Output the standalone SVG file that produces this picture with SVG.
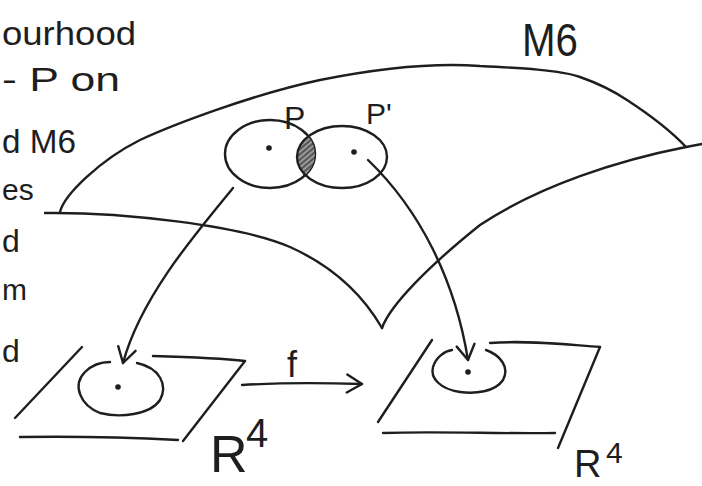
<svg xmlns="http://www.w3.org/2000/svg" width="702" height="486" viewBox="0 0 702 486">
<style>
.ln{fill:none;stroke:#1e1e1e;stroke-width:2.4;stroke-linecap:round;stroke-linejoin:round}
.t{font-family:"Liberation Sans","DejaVu Sans",sans-serif;fill:#1e1e1e}
.dot{fill:#1e1e1e}
</style>
<defs>
<marker id="ah" markerUnits="userSpaceOnUse" markerWidth="24" markerHeight="24" viewBox="-18 -12 24 24" refX="0" refY="0" orient="auto">
<path d="M-15,-9 L0,0 L-15,9" fill="none" stroke="#1e1e1e" stroke-width="2.4" stroke-linecap="round" stroke-linejoin="round"/>
</marker>
<pattern id="hatch" patternUnits="userSpaceOnUse" width="4" height="4" patternTransform="rotate(-40)">
<rect width="4" height="4" fill="#555"/>
<line x1="0" y1="1" x2="4" y2="1" stroke="#ddd" stroke-width="1"/>
</pattern>
<clipPath id="clipP"><ellipse cx="270" cy="154" rx="45" ry="34"/></clipPath>
</defs>

<g id="side-text">
<text class="t" x="2" y="45" font-size="34" textLength="134" lengthAdjust="spacingAndGlyphs">ourhood</text>
<text class="t" x="2" y="91" font-size="34" textLength="118" lengthAdjust="spacingAndGlyphs">- P on</text>
<text class="t" x="2" y="153" font-size="34" textLength="74" lengthAdjust="spacingAndGlyphs">d M6</text>
<text class="t" x="2" y="200" font-size="30">es</text>
<text class="t" x="2" y="252" font-size="32">d</text>
<text class="t" x="2" y="300" font-size="30">m</text>
<text class="t" x="2" y="362" font-size="32">d</text>
</g>

<g id="surface-M6">
<path class="ln" d="M60,212 C64,195 100,160 140,140 C170,126 250,95 320,80 C390,66 440,63 480,66 C520,68 560,70 580,77 C600,84 615,92 627,100 C650,115 670,130 686,147 L702,144"/>
<path class="ln" d="M45,213 C120,212 240,225 290,247 C330,265 360,290 382,328"/>
<path class="ln" d="M382,328 C390,305 430,265 480,225 C540,185 620,160 686,147"/>
<text class="t" x="522" y="56" font-size="46" textLength="56" lengthAdjust="spacingAndGlyphs">M6</text>
</g>

<g id="node-P">
<ellipse class="ln" cx="270" cy="154" rx="45" ry="34"/>
<circle class="dot" cx="269" cy="148" r="2.8"/>
<text class="t" x="284" y="129" font-size="32">P</text>
</g>

<g id="node-P-prime">
<ellipse cx="342" cy="157" rx="45" ry="31" fill="url(#hatch)" clip-path="url(#clipP)"/>
<ellipse class="ln" cx="342" cy="157" rx="45" ry="31"/>
<circle class="dot" cx="354" cy="152" r="2.8"/>
<text class="t" x="366" y="124" font-size="30">P'</text>
</g>

<g id="plane-left">
<path class="ln" d="M82,347 L15,418"/>
<path class="ln" d="M153,356 C190,357 220,358 245,361"/>
<path class="ln" d="M245,361 L183,441"/>
<path class="ln" d="M20,437 C80,436 140,438 178,440"/>
<path class="ln" d="M137,363 C160,368 168,385 160,400 C150,415 120,418 100,413 C80,405 72,385 85,372 C92,365 100,362 110,362"/>
<circle class="dot" cx="118" cy="387" r="2.8"/>
<text class="t" x="210" y="472" font-size="52">R</text>
<text class="t" x="246" y="447" font-size="40">4</text>
</g>

<g id="plane-right">
<path class="ln" d="M432,340 L378,422"/>
<path class="ln" d="M490,343 C530,340 570,345 600,347"/>
<path class="ln" d="M600,347 L558,448"/>
<path class="ln" d="M383,433 C440,431 500,434 555,433"/>
<path class="ln" d="M486,350 C500,355 510,367 503,380 C495,392 475,394 460,392 C440,389 430,378 433,367 C436,357 445,351 452,350"/>
<circle class="dot" cx="468" cy="372" r="2.8"/>
<text class="t" x="574" y="477" font-size="38">R</text>
<text class="t" x="606" y="463" font-size="30">4</text>
</g>

<g id="connectors">
<path class="ln" d="M233,188 C190,240 140,300 123,363" marker-end="url(#ah)"/>
<path class="ln" d="M368,160 C420,210 455,280 468,360" marker-end="url(#ah)"/>
<path class="ln" d="M242,385 C290,382 330,383 362,384" marker-end="url(#ah)"/>
<text class="t" x="287" y="377" font-size="36">f</text>
</g>
</svg>
